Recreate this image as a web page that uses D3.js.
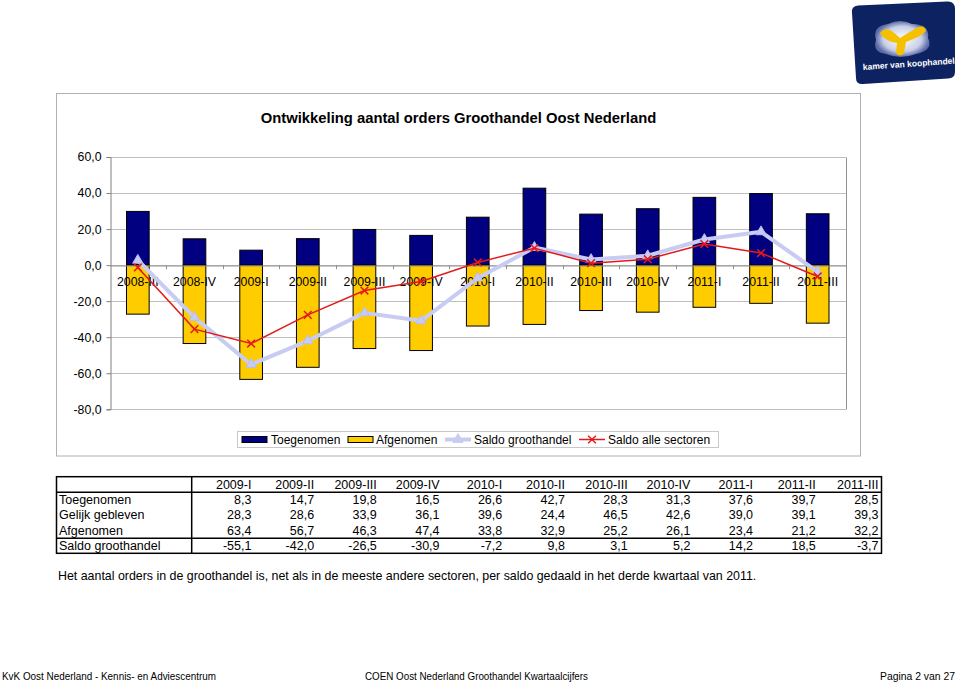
<!DOCTYPE html>
<html><head><meta charset="utf-8">
<script src="https://cdn.jsdelivr.net/npm/d3@7"></script>
<style>
body{margin:0;background:#fff;}
svg{display:block;font-family:Arial,"Liberation Sans",sans-serif;}
</style></head>
<body><svg id="c" width="960" height="683"></svg>
<script>
const categories = ["2008-III","2008-IV","2009-I","2009-II","2009-III","2009-IV","2010-I","2010-II","2010-III","2010-IV","2011-I","2011-II","2011-III"];
const toegenomen = [29.8, 14.6, 8.3, 14.7, 19.8, 16.5, 26.6, 42.7, 28.3, 31.3, 37.6, 39.7, 28.5];
const afgenomen = [27.2, 43.5, 63.4, 56.7, 46.3, 47.4, 33.8, 32.9, 25.2, 26.1, 23.4, 21.2, 32.2];
const saldoGroothandel = [2.7, -29.0, -55.1, -42.0, -26.5, -30.9, -7.2, 9.8, 3.1, 5.2, 14.2, 18.5, -3.7];
const saldoAlle = [-1.3, -35.5, -43.5, -27.6, -14.1, -9.1, 1.5, 9.4, 1.1, 3.3, 11.7, 6.7, -6.3];
const yTicks = [60, 40, 20, 0, -20, -40, -60, -80];
const seriesNames = ["Toegenomen", "Afgenomen", "Saldo groothandel", "Saldo alle sectoren"];
const tableCols = ["2009-I","2009-II","2009-III","2009-IV","2010-I","2010-II","2010-III","2010-IV","2011-I","2011-II","2011-III"];
const tableToegenomen = [8.3, 14.7, 19.8, 16.5, 26.6, 42.7, 28.3, 31.3, 37.6, 39.7, 28.5];
const tableGelijk = [28.3, 28.6, 33.9, 36.1, 39.6, 24.4, 46.5, 42.6, 39.0, 39.1, 39.3];
const tableAfgenomen = [63.4, 56.7, 46.3, 47.4, 33.8, 32.9, 25.2, 26.1, 23.4, 21.2, 32.2];
const tableSaldo = [-55.1, -42.0, -26.5, -30.9, -7.2, 9.8, 3.1, 5.2, 14.2, 18.5, -3.7];
const tableRowNames = ["Toegenomen", "Gelijk gebleven", "Afgenomen", "Saldo groothandel"];
const chartTitle = "Ontwikkeling aantal orders Groothandel Oost Nederland";
const note = "Het aantal orders in de groothandel is, net als in de meeste andere sectoren, per saldo gedaald in het derde kwartaal van 2011.";

const svg = d3.select("#c");
svg.append("rect").attr("width",960).attr("height",683).attr("fill","#fff");

// ---- Logo ----
const logo = svg.append("g");
logo.append("path").attr("d","M852,13 Q851,6 858,5.5 L947,1.5 Q955,1 955,9 L955,72 Q955,78 948,78.5 L863,84 Q856,84.5 856,78 Z").attr("fill","#0d2361");
const lg = svg.append("defs").append("radialGradient").attr("id","blob");
lg.append("stop").attr("offset","0%").attr("stop-color","#ffffff");
lg.append("stop").attr("offset","70%").attr("stop-color","#c9cfe6");
lg.append("stop").attr("offset","100%").attr("stop-color","#5a6aa8");
logo.append("path").attr("d","M876,40 Q872,26 888,24 Q900,18 912,24 Q930,24 928,38 Q934,50 916,54 Q900,60 886,54 Q872,52 876,40 Z").attr("fill","url(#blob)");
logo.append("path").attr("d","M880,33 Q886,26 893,32 L900,38 L918,27 Q925,25 926,31 Q922,36 906,42 L904,53 Q900,58 896,53 L897,43 Q886,42 880,33 Z").attr("fill","#f5c000");
logo.append("text").attr("x",863).attr("y",70).attr("transform","rotate(-4,863,70)")
  .attr("fill","#fff").attr("font-size",8.5).attr("font-weight","bold").text("kamer van koophandel");

// ---- Chart frame ----
svg.append("rect").attr("x",56.5).attr("y",93.5).attr("width",804).attr("height",362.5)
  .attr("fill","none").attr("stroke","#b0b0b0").attr("stroke-width",1);

svg.append("text").attr("x",458.5).attr("y",123).attr("text-anchor","middle")
  .attr("font-size",14.8).attr("font-weight","bold").text(chartTitle);

const plot = {left:109.5, right:846, top:157, bottom:409.3};
const x = d3.scaleBand().domain(categories).range([plot.left, plot.right]).paddingInner(0).paddingOuter(0);
const y = d3.scaleLinear().domain([-80, 60]).range([plot.bottom, plot.top]);

// gridlines
svg.append("g").selectAll("line").data(yTicks).join("line")
  .attr("x1",plot.left).attr("x2",plot.right)
  .attr("y1",d=>Math.round(y(d))+0.5).attr("y2",d=>Math.round(y(d))+0.5)
  .attr("stroke","#c0c0c0").attr("stroke-width",1);
// plot right border
svg.append("line").attr("x1",plot.right+0.5).attr("x2",plot.right+0.5).attr("y1",Math.round(y(60))+0.5).attr("y2",Math.round(y(-80))+0.5)
  .attr("stroke","#909090");

// y axis
const yAxis = d3.axisLeft(y).tickValues(yTicks).tickSize(4).tickPadding(5)
  .tickFormat(d=>d.toFixed(1).replace(".",","));
const ya = svg.append("g").attr("transform",`translate(${Math.round(plot.left)+0.5},0)`).call(yAxis);
ya.select(".domain").attr("stroke","#808080");
ya.selectAll(".tick line").attr("stroke","#808080");
ya.selectAll(".tick text").attr("font-size",12.3).attr("font-family","Arial,'Liberation Sans',sans-serif").attr("fill","#000");

const bw = x.bandwidth()*0.4;
const cx = d => x(d) + x.bandwidth()/2;

// bars
svg.append("g").selectAll("rect").data(categories).join("rect")
  .attr("x",(d)=>cx(d)-bw/2).attr("width",bw)
  .attr("y",(d,i)=>y(toegenomen[i])).attr("height",(d,i)=>y(0)-y(toegenomen[i]))
  .attr("fill","#000080").attr("stroke","#000").attr("stroke-width",1);
svg.append("g").selectAll("rect").data(categories).join("rect")
  .attr("x",(d)=>cx(d)-bw/2).attr("width",bw)
  .attr("y",y(0)).attr("height",(d,i)=>y(-afgenomen[i])-y(0))
  .attr("fill","#ffcc00").attr("stroke","#000").attr("stroke-width",1);

// category axis at zero
const xAxis = d3.axisBottom(x).tickSize(0).tickPadding(12);
const xa = svg.append("g").attr("transform",`translate(0,${Math.round(y(0))+0.5})`).call(xAxis);
xa.select(".domain").attr("stroke","#909090");
xa.selectAll(".tick text").attr("font-size",12.3).attr("font-family","Arial,'Liberation Sans',sans-serif").attr("fill","#000");
// ticks between categories
svg.append("g").selectAll("line").data(categories.slice(1)).join("line")
  .attr("x1",d=>Math.round(x(d))+0.5).attr("x2",d=>Math.round(x(d))+0.5)
  .attr("y1",y(0)).attr("y2",y(0)+4).attr("stroke","#909090");

// Saldo groothandel line
const line1 = d3.line().x((d,i)=>cx(categories[i])).y(d=>y(d));
svg.append("path").datum(saldoGroothandel).attr("d",line1)
  .attr("fill","none").attr("stroke","#c8ccf2").attr("stroke-width",4).attr("stroke-linejoin","round");
const tri = d3.symbol().type(d3.symbolTriangle).size(45);
svg.append("g").selectAll("path").data(saldoGroothandel).join("path")
  .attr("d",tri).attr("transform",(d,i)=>`translate(${cx(categories[i])},${y(d)})`)
  .attr("fill","#c8ccf2").attr("stroke","#b8bcee");

// Saldo alle sectoren line
svg.append("path").datum(saldoAlle).attr("d",line1)
  .attr("fill","none").attr("stroke","#e31a1a").attr("stroke-width",1.5);
const xs = d3.symbol().type(d3.symbolX).size(40);
svg.append("g").selectAll("path").data(saldoAlle).join("path")
  .attr("d",xs).attr("transform",(d,i)=>`translate(${cx(categories[i])},${y(d)})`)
  .attr("fill","none").attr("stroke","#e31a1a").attr("stroke-width",1.5);

// legend
const leg = svg.append("g");
leg.append("rect").attr("x",237.5).attr("y",431.5).attr("width",481).attr("height",16)
  .attr("fill","#fff").attr("stroke","#c8c8c8");
const legItems = [
  {x:242, tx:271, type:"bar", fill:"#000080"},
  {x:348, tx:376, type:"bar", fill:"#ffcc00"},
  {x:445, tx:474, type:"line", stroke:"#c8ccf2", w:4, marker:"tri"},
  {x:579, tx:608, type:"line", stroke:"#e31a1a", w:1.5, marker:"x"}
];
legItems.forEach((it,i)=>{
  if(it.type==="bar"){
    leg.append("rect").attr("x",it.x).attr("y",436.5).attr("width",25).attr("height",6)
      .attr("fill",it.fill).attr("stroke","#000");
  } else {
    leg.append("line").attr("x1",it.x).attr("x2",it.x+26).attr("y1",439.5).attr("y2",439.5)
      .attr("stroke",it.stroke).attr("stroke-width",it.w);
    leg.append("path").attr("d", it.marker==="tri"?tri():xs())
      .attr("transform",`translate(${it.x+13},439.5)`)
      .attr("fill",it.marker==="tri"?it.stroke:"none").attr("stroke",it.stroke).attr("stroke-width",it.marker==="tri"?1:1.5);
  }
  leg.append("text").attr("x",it.tx).attr("y",444).attr("font-size",12).text(seriesNames[i]);
});

// ---- Table ----
const tb = svg.append("g");
const tL = 56.5, tR = 881.5, tTop = 476.7, hdrB = 492.3, sTop = 538.3, tBot = 553.3, divX = 191.7;
const colW = (tR - divX) / tableCols.length;
const rowH = (sTop - hdrB) / 3;
const fs = 12.5;
const fmt = v => v.toFixed(1).replace(".", ",");
tb.selectAll("text.h").data(tableCols).join("text").attr("class","h")
  .attr("x",(d,i)=>divX + colW*(i+1) - 3).attr("y",hdrB-3.5).attr("text-anchor","end")
  .attr("font-size",fs).text(d=>d);
const rowsData = [tableToegenomen, tableGelijk, tableAfgenomen, tableSaldo];
rowsData.forEach((arr,r)=>{
  const base = r<3 ? hdrB + rowH*(r+1) - 3.5 : tBot - 3.5;
  tb.append("text").attr("x",59).attr("y",base).attr("font-size",fs).text(tableRowNames[r]);
  tb.selectAll(null).data(arr).join("text")
    .attr("x",(d,i)=>divX + colW*(i+1) - 3).attr("y",base).attr("text-anchor","end")
    .attr("font-size",fs).text(d=>fmt(d));
});
tb.append("rect").attr("x",tL).attr("y",tTop).attr("width",tR-tL).attr("height",tBot-tTop)
  .attr("fill","none").attr("stroke","#000").attr("stroke-width",1.5);
tb.append("line").attr("x1",tL).attr("x2",tR).attr("y1",hdrB).attr("y2",hdrB).attr("stroke","#000").attr("stroke-width",1.5);
tb.append("line").attr("x1",tL).attr("x2",tR).attr("y1",sTop).attr("y2",sTop).attr("stroke","#000").attr("stroke-width",1.5);
tb.append("line").attr("x1",divX).attr("x2",divX).attr("y1",tTop).attr("y2",tBot).attr("stroke","#000").attr("stroke-width",1.5);

// note
svg.append("text").attr("x",58).attr("y",580).attr("font-size",12.4).text(note);

// footer
const ff = "'Liberation Sans Narrow','Arial Narrow',Arial,sans-serif";
svg.append("text").attr("x",2).attr("y",680).attr("font-size",11).attr("font-family",ff)
  .attr("textLength",214).attr("lengthAdjust","spacingAndGlyphs").text("KvK Oost Nederland - Kennis- en Adviescentrum");
svg.append("text").attr("x",365).attr("y",680).attr("font-size",11).attr("font-family",ff)
  .attr("textLength",223).attr("lengthAdjust","spacingAndGlyphs").text("COEN Oost Nederland Groothandel Kwartaalcijfers");
svg.append("text").attr("x",880).attr("y",680).attr("font-size",11).attr("font-family",ff)
  .attr("textLength",75).attr("lengthAdjust","spacingAndGlyphs").text("Pagina 2 van 27");
</script></body></html>
